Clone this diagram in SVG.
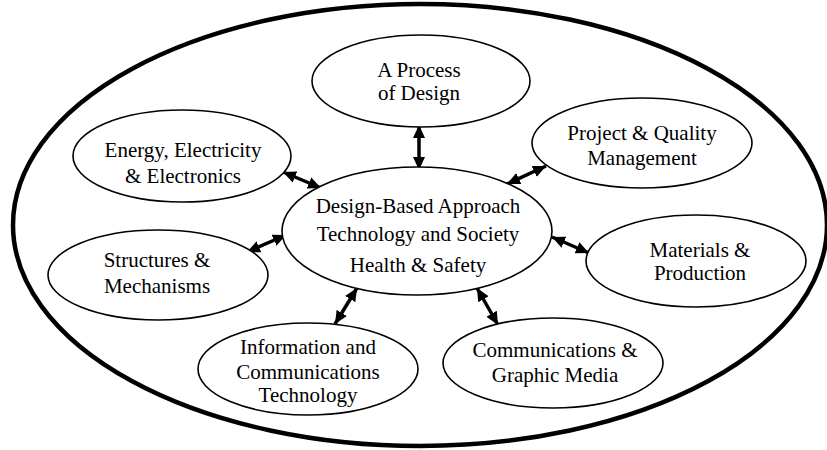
<svg xmlns="http://www.w3.org/2000/svg" width="827" height="450" viewBox="0 0 827 450">
<defs>
<marker id="ah" markerUnits="userSpaceOnUse" markerWidth="14" markerHeight="14" viewBox="0 0 14 14" refX="13" refY="7" orient="auto-start-reverse">
<path d="M0,1 L13,7 L0,13 Z" fill="#000"/>
</marker>
</defs>
<style>
.outer{fill:none;stroke:#000;stroke-width:4.5}
.node ellipse{fill:#fff;stroke:#000;stroke-width:1.6}
.node text{font-family:"Liberation Serif","Times New Roman",serif;font-size:21px;fill:#000;text-anchor:middle}
.conn line{stroke:#000;stroke-width:3.5;marker-start:url(#ah);marker-end:url(#ah)}
</style>
<rect width="827" height="450" fill="#fff"/>
<ellipse class="outer" cx="420" cy="225" rx="407" ry="221"/>
<g id="connectors" class="conn">
<line x1="419" y1="125" x2="419" y2="170"/>
<line x1="283" y1="172" x2="321" y2="188"/>
<line x1="546" y1="166" x2="507" y2="184"/>
<line x1="247" y1="252" x2="286" y2="235"/>
<line x1="552" y1="237" x2="589" y2="253"/>
<line x1="357" y1="288" x2="335" y2="324"/>
<line x1="477" y1="288" x2="498" y2="325"/>
</g>
<g id="center" class="node">
<ellipse cx="417" cy="231" rx="135" ry="64"/>
<text x="418" y="213">Design-Based Approach</text>
<text x="418" y="241">Technology and Society</text>
<text x="418" y="272">Health &amp; Safety</text>
</g>
<g id="process" class="node">
<ellipse cx="421" cy="81" rx="109" ry="46"/>
<text x="419" y="77">A Process</text>
<text x="419" y="100">of Design</text>
</g>
<g id="energy" class="node">
<ellipse cx="182" cy="156" rx="109" ry="46"/>
<text x="183" y="157">Energy, Electricity</text>
<text x="183" y="183">&amp; Electronics</text>
</g>
<g id="project" class="node">
<ellipse cx="642" cy="143" rx="110" ry="45"/>
<text x="642" y="140">Project &amp; Quality</text>
<text x="642" y="165">Management</text>
</g>
<g id="structures" class="node">
<ellipse cx="158" cy="275" rx="110" ry="45"/>
<text x="157" y="267">Structures &amp;</text>
<text x="157" y="293">Mechanisms</text>
</g>
<g id="materials" class="node">
<ellipse cx="696" cy="261" rx="110" ry="46"/>
<text x="700" y="257">Materials &amp;</text>
<text x="700" y="280">Production</text>
</g>
<g id="ict" class="node">
<ellipse cx="308" cy="369" rx="110" ry="46"/>
<text x="308" y="354">Information and</text>
<text x="308" y="379">Communications</text>
<text x="308" y="402">Technology</text>
</g>
<g id="communications" class="node">
<ellipse cx="553" cy="363" rx="110" ry="45"/>
<text x="555" y="357">Communications &amp;</text>
<text x="555" y="382">Graphic Media</text>
</g>
</svg>
